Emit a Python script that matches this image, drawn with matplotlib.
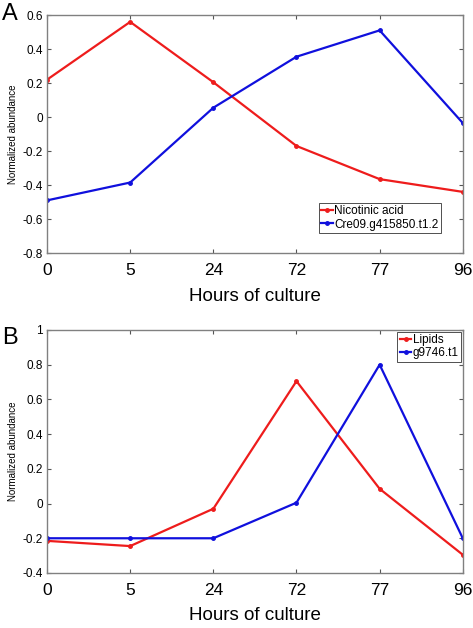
import matplotlib
matplotlib.use("Agg")
import matplotlib.pyplot as plt

hours = ["0", "5", "24", "72", "77", "96"]

nicotinic_acid = [0.22, 0.56, 0.205, -0.17, -0.365, -0.44]
cre09 = [-0.49, -0.385, 0.055, 0.355, 0.51, -0.035]

lipids = [-0.215, -0.245, -0.03, 0.705, 0.085, -0.295]
g9746 = [-0.2, -0.2, -0.2, 0.005, 0.8, -0.2]

plt.rcParams['font.family'] = ['Liberation Sans', 'DejaVu Sans']

fig = plt.figure(figsize=(4.73, 6.28), dpi=100)
axA = fig.add_axes([0.0994, 0.597, 0.879, 0.379])
axB = fig.add_axes([0.0994, 0.0876, 0.879, 0.387])

def style(ax, ylim, yticks, yticklabels):
    x = list(range(len(hours)))
    ax.set_xlim(0, len(hours) - 1)
    ax.set_ylim(*ylim)
    ax.set_xticks(x)
    ax.set_xticklabels(hours, fontsize=12.5)
    ax.set_yticks(yticks)
    ax.set_yticklabels(yticklabels, fontsize=8.5)
    ax.tick_params(axis='both', direction='in', top=True, right=True,
                   length=3, width=0.8, color='#555555')
    ax.tick_params(axis='x', pad=7)
    ax.tick_params(axis='y', pad=3)
    for s in ax.spines.values():
        s.set_color('#808080')
        s.set_linewidth(1.0)
    ax.set_xlabel("Hours of culture", fontsize=13.5, labelpad=7)
    ax.set_ylabel("Normalized abundance", fontsize=7, labelpad=3)

x = list(range(len(hours)))
axA.plot(x, nicotinic_acid, color='#ee1c1c', lw=1.6, marker='o', ms=2.5, label='Nicotinic acid')
axA.plot(x, cre09, color='#1010dd', lw=1.6, marker='o', ms=2.5, label='Cre09.g415850.t1.2')
style(axA, (-0.8, 0.6), [-0.8, -0.6, -0.4, -0.2, 0, 0.2, 0.4, 0.6],
      ["-0.8", "-0.6", "-0.4", "-0.2", "0", "0.2", "0.4", "0.6"])
legA = axA.legend(loc='lower right', bbox_to_anchor=(0.955, 0.07), fontsize=8.5, frameon=True,
                  fancybox=False, edgecolor='black', handlelength=1.0, handletextpad=0.1,
                  borderpad=0.2, labelspacing=0.1, borderaxespad=0.3)
legA.get_frame().set_linewidth(0.6)

axB.plot(x, lipids, color='#ee1c1c', lw=1.6, marker='o', ms=2.5, label='Lipids')
axB.plot(x, g9746, color='#1010dd', lw=1.6, marker='o', ms=2.5, label='g9746.t1')
style(axB, (-0.4, 1.0), [-0.4, -0.2, 0, 0.2, 0.4, 0.6, 0.8, 1.0],
      ["-0.4", "-0.2", "0", "0.2", "0.4", "0.6", "0.8", "1"])
legB = axB.legend(loc='upper right', fontsize=8.5, frameon=True,
                  fancybox=False, edgecolor='black', handlelength=1.0, handletextpad=0.1,
                  borderpad=0.2, labelspacing=0.1, borderaxespad=0.15)
legB.get_frame().set_linewidth(0.6)

fig.text(0.004, 0.995, "A", fontsize=17, ha='left', va='top')
fig.text(0.004, 0.48, "B", fontsize=17, ha='left', va='top')

fig.savefig("out.png", dpi=100)
